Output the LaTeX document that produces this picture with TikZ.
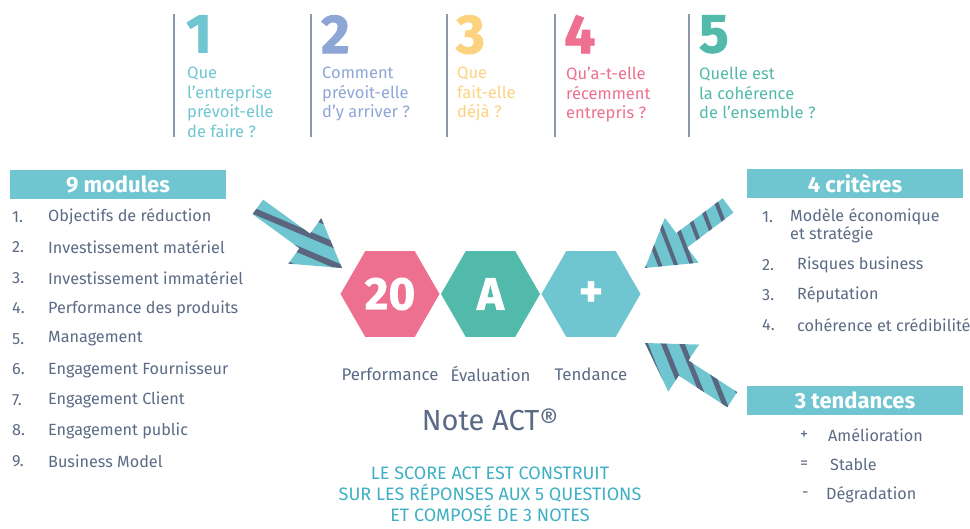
\documentclass[tikz,border=0pt]{standalone}
\usepackage{fontspec}
\setmainfont{Fira Sans}
\usetikzlibrary{shapes.geometric}

\definecolor{actcyan}{HTML}{6FC6D1}
\definecolor{actblue}{HTML}{8EA6D6}
\definecolor{actyellow}{HTML}{FDD27F}
\definecolor{actpink}{HTML}{EE7090}
\definecolor{actgreen}{HTML}{52BAAA}
\definecolor{actgray}{HTML}{5B6A85}
\definecolor{actline}{HTML}{8D98AD}
\definecolor{actcapt}{HTML}{3FAFC4}
\definecolor{actstripe}{HTML}{5A6580}

\tikzset{
  qnum/.style={anchor=north west, inner sep=0pt, font=\fontsize{55}{55}\selectfont\bfseries\addfontfeature{FakeBold=1.5}},
  qtext/.style={anchor=north west, inner sep=0pt, align=left, font=\fontsize{16.5}{19.5}\selectfont},
  sepline/.style={actline, line width=1.2pt},
  headbox/.style={fill=actcyan, text=white, inner sep=0pt, minimum width=216pt, minimum height=29pt, font=\fontsize{22}{22}\selectfont\bfseries},
  item/.style={anchor=west, inner sep=0pt, text=actgray, align=left, font=\fontsize{16.2}{18}\selectfont},
  hexa/.style={regular polygon, regular polygon sides=6, minimum size=99pt, inner sep=0pt, text=white, font=\fontsize{46}{46}\selectfont\bfseries\addfontfeature{FakeBold=1}},
  stripe/.style={actstripe, line width=#1},
  stripe/.default=5pt
}

% fat arrow with stripes: tip, direction, stripe angle, pitch, stripe width
\newcommand\stripedarrow[5]{%
  \begin{scope}[shift={#1}, rotate=#2]
    \fill[actcyan] (0,0) -- (-46,28) -- (-46,9) -- (-104,9) -- (-104,-9) -- (-46,-9) -- (-46,-28) -- cycle;
    \clip (0,0) -- (-46,28) -- (-46,9) -- (-104,9) -- (-104,-9) -- (-46,-9) -- (-46,-28) -- cycle;
    \foreach \k in {-9,...,9}
      \draw[stripe=#5, rotate=#3] (-160,\k*#4) -- (160,\k*#4);
  \end{scope}}

\begin{document}
\begin{tikzpicture}[x=1pt, y=-1pt]
  \useasboundingbox (0,0) rectangle (970,528);

  % the five questions
  \foreach \x in {174,311,447,555,689}
    \draw[sepline] (\x,14) -- (\x,137);
  \node[qnum, text=actcyan] (n1) at (186,15) {1};
  \node[qnum, text=actblue] (n2) at (321,15) {2};
  \node[qnum, text=actyellow] (n3) at (456,15) {3};
  \node[qnum, text=actpink] (n4) at (564,15) {4};
  \node[qnum, text=actgreen] (n5) at (699,15) {5};
  \node[qtext, text=actcyan] (q1) at (187,67) {Que\\l’entreprise\\prévoit-elle\\de faire ?};
  \node[qtext, text=actblue] (q2) at (322,67) {Comment\\prévoit-elle\\d’y arriver ?};
  \node[qtext, text=actyellow] (q3) at (457,67) {Que\\fait-elle\\déjà ?};
  \node[qtext, text=actpink] (q4) at (566,67) {Qu’a-t-elle\\récemment\\entrepris ?};
  \node[qtext, text=actgreen] (q5) at (699,67) {Quelle est\\la cohérence\\de l’ensemble ?};

  % 9 modules
  \node[headbox] (modules) at (118,184) {9 modules};
  \foreach \i/\txt in {1/Objectifs de réduction, 2/Investissement matériel, 3/Investissement immatériel,
      4/Performance des produits, 5/Management, 6/Engagement Fournisseur, 7/Engagement Client,
      8/Engagement public, 9/Business Model}
  {
    \node[item] (modn\i) at (12,{217+30.5*(\i-1)}) {\i.};
    \node[item] (mod\i) at (48,{217+30.5*(\i-1)}) {\txt};
  }

  % the three notes
  \node[hexa, fill=actpink] (perf) at (390,294) {20};
  \node[hexa, fill=actgreen] (eval) at (490.5,294) {A};
  \node[hexa, fill=actcyan] (tend) at (591,294) {+};
  \node[item, anchor=center, font=\fontsize{16.8}{18}\selectfont] (perflab) at (390,374) {Performance};
  \node[item, anchor=center, font=\fontsize{16.8}{18}\selectfont] (evallab) at (490.5,374) {Évaluation};
  \node[item, anchor=center, font=\fontsize{16.8}{18}\selectfont] (tendlab) at (591,374) {Tendance};
  \node[text=actgray, font=\fontsize{29}{29}\selectfont] (note) at (490,420) {Note ACT®};
  \node[text=actcapt, align=center, inner sep=0pt, font=\fontsize{18}{21}\selectfont] (score) at (490,494)
    {LE SCORE ACT EST CONSTRUIT\\SUR LES RÉPONSES AUX 5 QUESTIONS\\ET COMPOSÉ DE 3 NOTES};

  % 4 criteres
  \node[headbox] (criteres) at (855,183) {4 critères};
  \node[item] (critn1) at (762,217) {1.};
  \node[item] (crit1) at (790,226) {Modèle économique\\et stratégie};
  \node[item] (critn2) at (762,265) {2.};
  \node[item] (crit2) at (797,265) {Risques business};
  \node[item] (critn3) at (762,295) {3.};
  \node[item] (crit3) at (797,295) {Réputation};
  \node[item] (critn4) at (762,325) {4.};
  \node[item] (crit4) at (797,325) {cohérence et crédibilité};

  % 3 tendances
  \node[headbox] (tendances) at (855,400) {3 tendances};
  \node[item] (tendn1) at (800,435) {+};
  \node[item] (tend1) at (828,435) {Amélioration};
  \node[item] (tendn2) at (800,465) {=};
  \node[item] (tend2) at (830,465) {Stable};
  \node[item] (tendn3) at (802,495) {-};
  \node[item] (tend3) at (826,495) {Dégradation};

  % arrows
  \stripedarrow{(342,268)}{-36}{13}{18}{6pt}
  \stripedarrow{(645,268)}{217}{74}{15}{4pt}
  \stripedarrow{(645,343)}{147}{-35}{17}{5pt}
\end{tikzpicture}
\end{document}
